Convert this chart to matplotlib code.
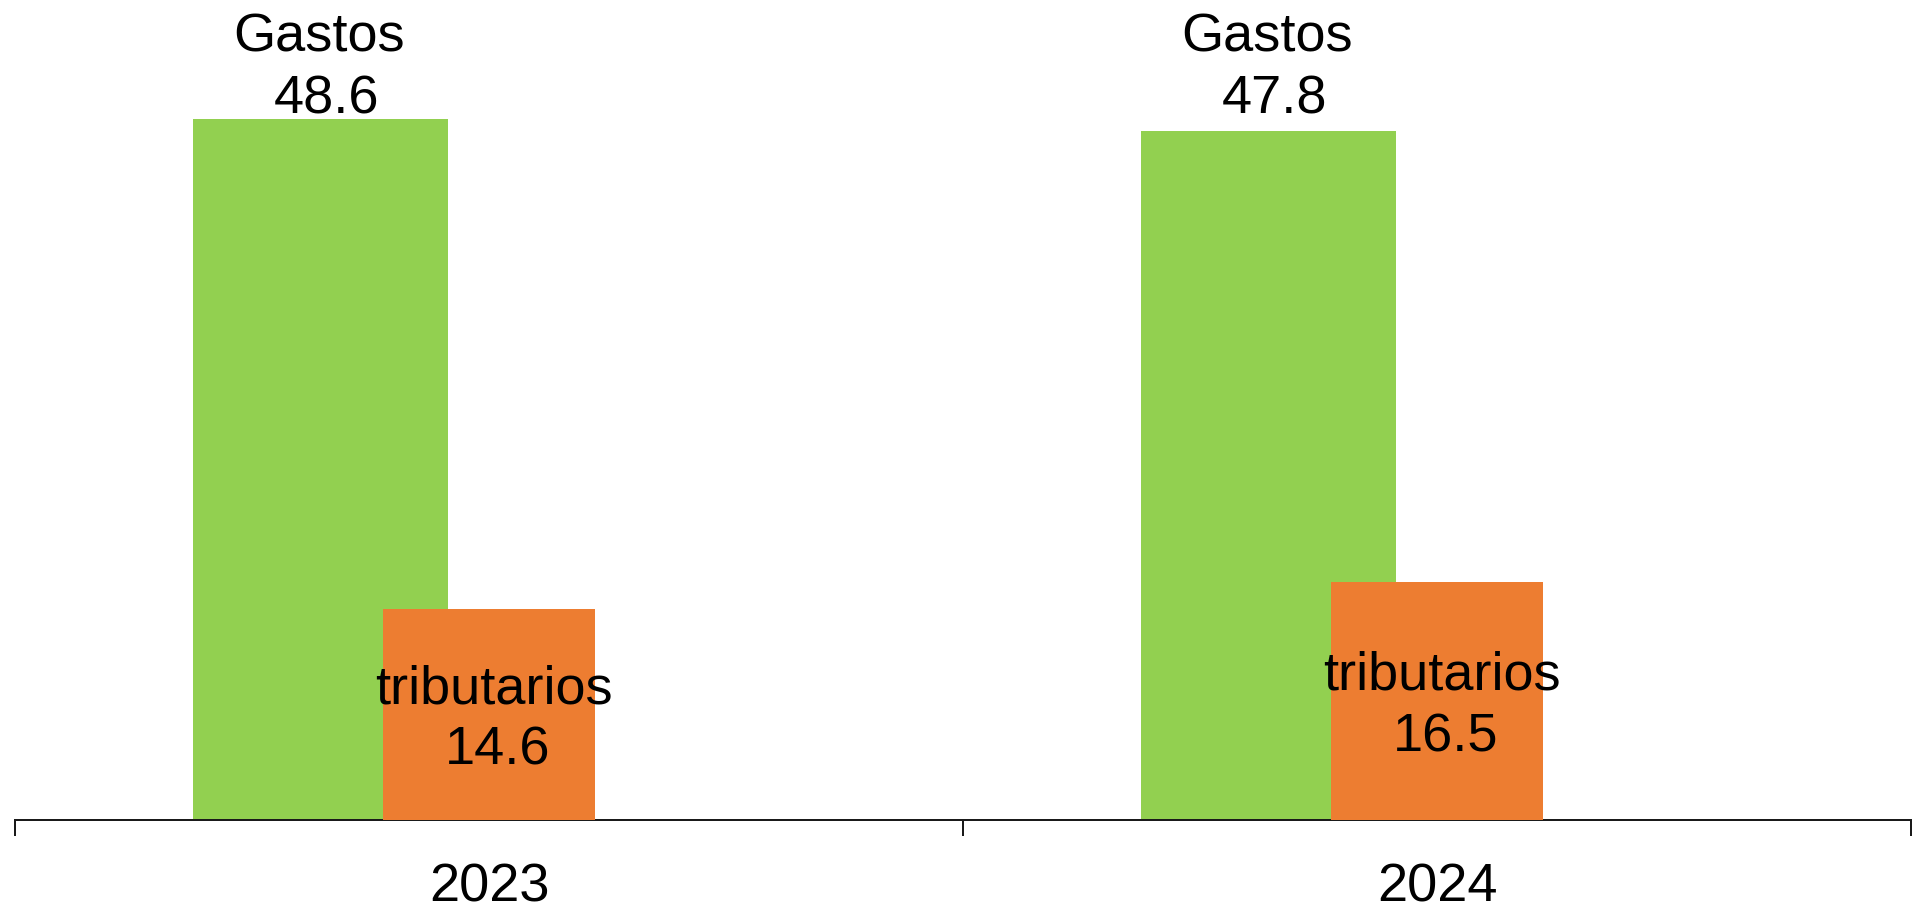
import matplotlib
matplotlib.use("Agg")
import matplotlib.pyplot as plt
from matplotlib.ticker import FixedLocator, NullFormatter

plt.rcParams['font.family'] = ['Liberation Sans', 'DejaVu Sans']

years = ["2023", "2024"]
gastos = [48.6, 47.8]
tributarios = [14.6, 16.5]
gastos_name = "Gastos"
trib_name = "tributarios"

GREEN = "#92D050"
ORANGE = "#ED7D31"
FS = 39

DPI = 100
W, H = 1916, 905
fig = plt.figure(figsize=(W / DPI, H / DPI), dpi=DPI)

# plot area: x from 15 px to 1911 px, baseline at y = 820 px from top
left, right = 15 / W, 1911 / W
bottom = (H - 820) / H
ax = fig.add_axes([left, bottom, right - left, 1 - bottom])
px_per_unit = 14.42
ax.set_ylim(0, 820 / px_per_unit)
ax.set_xlim(-0.5, len(years) - 0.5)

x = list(range(len(years)))
g_off, g_w = -0.178, 0.269
t_w = 0.224

ax.bar([xi + g_off for xi in x], gastos, width=g_w, color=GREEN, zorder=2)
ax.bar(x, tributarios, width=t_w, color=ORANGE, zorder=3)

pt = 72 / DPI  # points per pixel


def label(text, xy, xycoords, dx, dy):
    ax.annotate(text, xy=xy, xycoords=xycoords,
                xytext=(dx * pt, dy * pt), textcoords="offset points",
                ha="center", va="baseline", fontsize=FS, zorder=5)


# "Gastos" labels sit along the top of the plot area
for xi, v in zip(x, gastos):
    pos = (xi + g_off, 1)
    label(gastos_name, pos, ("data", "axes fraction"), -1, -52)
    label(f"{v:.1f}", pos, ("data", "axes fraction"), 6, -113)

# "tributarios" labels centred inside the orange bars
for xi, v in zip(x, tributarios):
    pos = (xi, v / 2)
    label(trib_name, pos, "data", 5, 11.7)
    label(f"{v:.1f}", pos, "data", 9, -50)

for s in ("top", "left", "right"):
    ax.spines[s].set_visible(False)
ax.spines["bottom"].set_linewidth(2 * pt)
ax.spines["bottom"].set_color("#1a1a1a")
ax.set_yticks([])

# category boundaries as major ticks, year labels as minor ticks
bounds = [i - 0.5 for i in range(len(years) + 1)]
ax.xaxis.set_major_locator(FixedLocator(bounds))
ax.xaxis.set_major_formatter(NullFormatter())
ax.tick_params(axis="x", which="major", length=16 * pt, width=2 * pt, color="#1a1a1a", direction="out")
ax.xaxis.set_minor_locator(FixedLocator(x))
ax.set_xticklabels(years, minor=True)
ax.tick_params(axis="x", which="minor", length=0, pad=42 * pt, labelsize=FS)

fig.savefig("out.png", dpi=DPI, facecolor="white")
